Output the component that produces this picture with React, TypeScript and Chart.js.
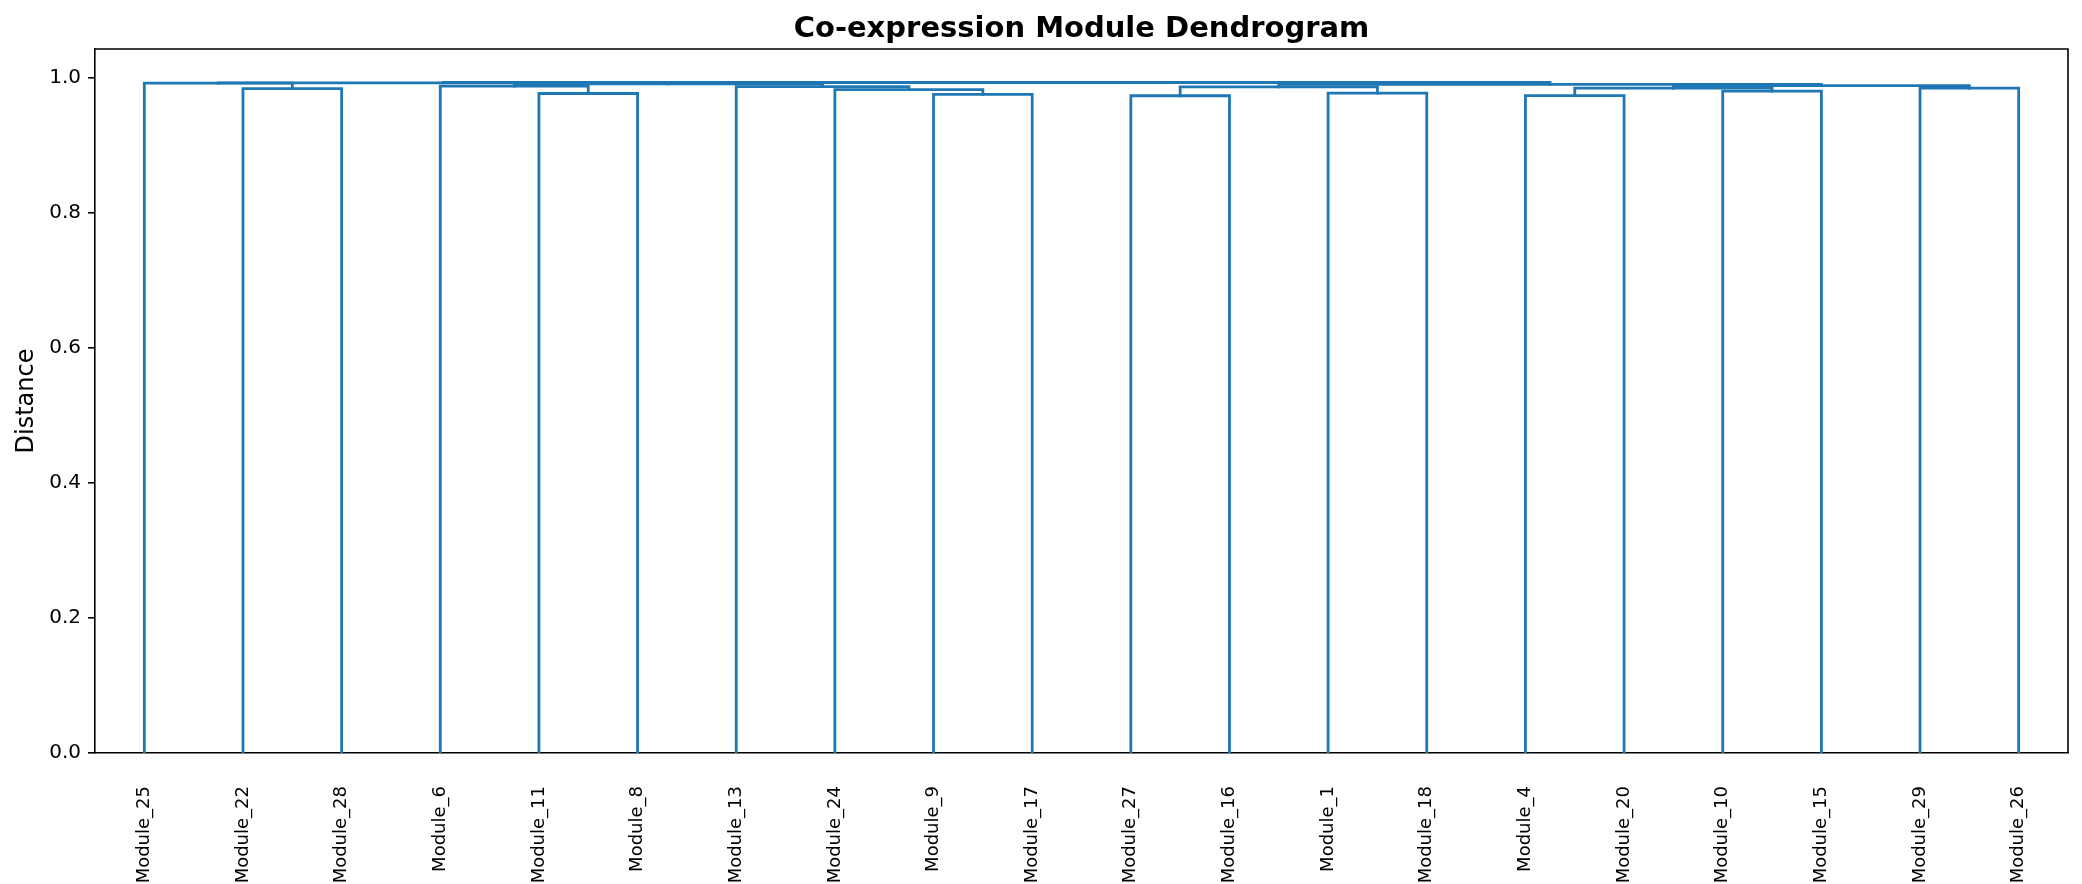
import React, { useEffect, useRef } from 'react';
import { Chart, registerables } from 'chart.js';

Chart.register(...registerables);

const titleText = 'Co-expression Module Dendrogram';
const yAxisLabel = 'Distance';

// Leaves in dendrogram order (left to right)
const leafLabels = [
  'Module_25', 'Module_22', 'Module_28', 'Module_6', 'Module_11', 'Module_8',
  'Module_13', 'Module_24', 'Module_9', 'Module_17', 'Module_27', 'Module_16',
  'Module_1', 'Module_18', 'Module_4', 'Module_20', 'Module_10', 'Module_15',
  'Module_29', 'Module_26',
];

// Linkage: merge k creates node id (leafCount + k)
const mergeLeft = [1, 4, 8, 10, 14, 12, 16, 18, 7, 24, 3, 6, 23, 29, 0, 32, 30, 34, 37];
const mergeRight = [2, 5, 9, 11, 15, 13, 17, 19, 22, 26, 21, 28, 25, 27, 20, 33, 31, 36, 35];
const mergeHeight = [
  0.9847, 0.9773, 0.976, 0.974, 0.9742, 0.9778, 0.981, 0.9852, 0.9832, 0.9853,
  0.9882, 0.9876, 0.9872, 0.9889, 0.9926, 0.9908, 0.9918, 0.9931, 0.9936,
];

const yTickValues = [0, 0.2, 0.4, 0.6, 0.8, 1.0];

const LINK_COLOR = '#1f77b4';
const FONT = '"DejaVu Sans", sans-serif';

function buildLinks() {
  const n = leafLabels.length;
  const xs: number[] = [];
  const hs: number[] = [];
  for (let i = 0; i < n; i++) {
    xs[i] = 5 + 10 * i;
    hs[i] = 0;
  }
  const links: { x: number; y: number }[][] = [];
  for (let k = 0; k < mergeLeft.length; k++) {
    const l = mergeLeft[k];
    const r = mergeRight[k];
    const h = mergeHeight[k];
    links.push([
      { x: xs[l], y: hs[l] },
      { x: xs[l], y: h },
      { x: xs[r], y: h },
      { x: xs[r], y: hs[r] },
    ]);
    xs[n + k] = (xs[l] + xs[r]) / 2;
    hs[n + k] = h;
  }
  return links;
}

const decorPlugin = {
  id: 'decor',
  afterDraw(chart: any) {
    const { ctx, chartArea: a } = chart;
    ctx.save();
    ctx.strokeStyle = '#000';
    ctx.lineWidth = 1.6;
    ctx.beginPath();
    ctx.moveTo(a.left, a.top);
    ctx.lineTo(a.right, a.top);
    ctx.lineTo(a.right, a.bottom);
    ctx.stroke();
    ctx.fillStyle = '#000';
    ctx.textAlign = 'center';
    ctx.textBaseline = 'middle';
    ctx.font = `bold 29px ${FONT}`;
    ctx.fillText(titleText, (a.left + a.right) / 2, 29);
    ctx.translate(27, (a.top + a.bottom) / 2);
    ctx.rotate(-Math.PI / 2);
    ctx.font = `24px ${FONT}`;
    ctx.fillText(yAxisLabel, 0, 0);
    ctx.restore();
  },
};

export default function App() {
  const ref = useRef<HTMLCanvasElement | null>(null);

  useEffect(() => {
    document.body.style.margin = '0';
    document.body.style.overflow = 'hidden';
    const canvas = ref.current;
    if (!canvas) return;
    const links = buildLinks();
    const yMax = Math.max(...mergeHeight) * 1.05;
    const chart = new Chart(canvas, {
      type: 'line',
      data: {
        datasets: links.map((pts) => ({
          data: pts,
          borderColor: LINK_COLOR,
          borderWidth: 2.8,
          pointRadius: 0,
          pointHoverRadius: 0,
          fill: false,
          tension: 0,
          borderCapStyle: 'square',
          borderJoinStyle: 'miter',
        })),
      },
      options: {
        responsive: false,
        animation: false,
        devicePixelRatio: 1,
        layout: { padding: { top: 49, right: 14, left: 0, bottom: 0 } },
        plugins: {
          legend: { display: false },
          title: { display: false },
          tooltip: { enabled: false },
        },
        events: [],
        scales: {
          x: {
            type: 'linear',
            min: 0,
            max: 10 * leafLabels.length,
            afterFit: (s: any) => {
              s.height = 131;
            },
            afterBuildTicks: (s: any) => {
              s.ticks = leafLabels.map((_, i) => ({ value: 5 + 10 * i }));
            },
            grid: { display: false },
            border: { display: true, color: '#000', width: 1.6 },
            ticks: {
              autoSkip: false,
              minRotation: 90,
              maxRotation: 90,
              padding: 25,
              color: '#000',
              font: { family: FONT, size: 18 },
              callback: (v: any) => leafLabels[Math.round((Number(v) - 5) / 10)] ?? '',
            },
          },
          y: {
            type: 'linear',
            min: 0,
            max: yMax,
            afterFit: (s: any) => {
              s.width = 95;
            },
            afterBuildTicks: (s: any) => {
              s.ticks = yTickValues.map((v) => ({ value: v }));
            },
            grid: {
              display: true,
              drawOnChartArea: false,
              drawTicks: true,
              tickLength: 7,
              color: '#000',
              lineWidth: 1.6,
            },
            border: { display: true, color: '#000', width: 1.6 },
            ticks: {
              padding: 7,
              color: '#000',
              font: { family: FONT, size: 20 },
              callback: (v: any) => Number(v).toFixed(1),
            },
          },
        },
      },
      plugins: [decorPlugin],
    } as any);
    return () => chart.destroy();
  }, []);

  return (
    <canvas
      ref={ref}
      width={2082}
      height={884}
      style={{ display: 'block', width: '2082px', height: '884px', background: '#fff' }}
    />
  );
}
